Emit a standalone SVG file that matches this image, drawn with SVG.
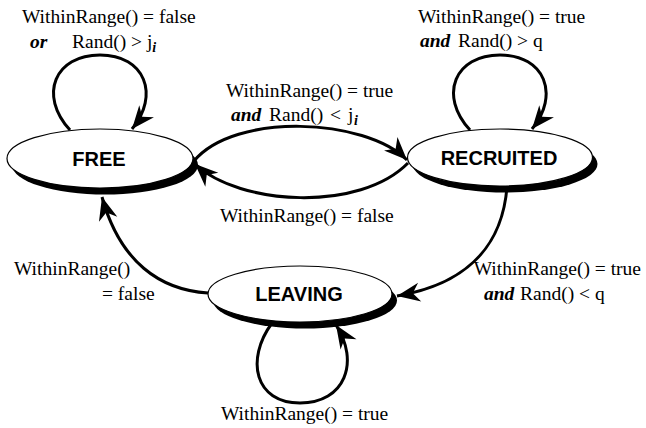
<svg xmlns="http://www.w3.org/2000/svg" width="646" height="428" viewBox="0 0 646 428">
<defs>
<style>
.lbl{font-family:"Liberation Serif","Times New Roman",serif;font-size:19.5px;fill:#000}
.kw{font-weight:bold;font-style:italic}
.sub{font-weight:bold;font-style:italic;font-size:14px}
.nt{font-family:"Liberation Sans",Arial,sans-serif;font-size:20px;font-weight:bold;fill:#000;text-anchor:middle}
.shadow{fill:#000;stroke:none}
.body{fill:#fff;stroke:#000;stroke-width:1.2}
.edge{fill:none;stroke:#000;stroke-width:3;marker-end:url(#ah)}
</style>
<marker id="ah" markerUnits="userSpaceOnUse" markerWidth="26" markerHeight="22" viewBox="-24 -11 26 22" refX="0" refY="0" orient="auto">
<path d="M0,0 L-23,-9.5 L-16,0 L-23,9.5 Z" fill="#000"/>
</marker>
</defs>
<g id="node-free">
<ellipse class="shadow" cx="105" cy="165" rx="93" ry="29.5"/>
<ellipse class="body" cx="100" cy="158.5" rx="93" ry="29.5"/>
<text class="nt" x="99" y="166">FREE</text>
</g>
<g id="node-recruited">
<ellipse class="shadow" cx="505" cy="164" rx="92.5" ry="28.5"/>
<ellipse class="body" cx="500" cy="157.5" rx="92.5" ry="28.5"/>
<text class="nt" x="499" y="165">RECRUITED</text>
</g>
<g id="node-leaving">
<ellipse class="shadow" cx="305" cy="300.5" rx="92" ry="28"/>
<ellipse class="body" cx="300" cy="294" rx="92" ry="28"/>
<text class="nt" x="299" y="301">LEAVING</text>
</g>
<g id="connectors">
<path class="edge" d="M70,130 C38,95 55,55 100,55 C145,55 160,95 132,129"/>
<path class="edge" d="M470,130 C438,95 455,55 500,55 C545,55 560,95 532,129"/>
<path class="edge" d="M194,161 C235,112 365,118 407,160"/>
<path class="edge" d="M408,163 C360,212 240,206 195,164"/>
<path class="edge" d="M507,187 C502,250 462,285 397,296"/>
<path class="edge" d="M208,293 C160,290 120,262 102,197"/>
<path class="edge" d="M272,323 C245,360 255,403 300,403 C345,403 360,362 336,325"/>
</g>
<g id="labels">
<text class="lbl" x="22" y="23">WithinRange() = false</text>
<text class="lbl" y="48"><tspan class="kw" x="30">or</tspan><tspan x="72">Rand() &gt; j</tspan><tspan class="sub" dy="4">i</tspan></text>
<text class="lbl" x="226" y="97">WithinRange() = true</text>
<text class="lbl" y="121"><tspan class="kw" x="231">and</tspan><tspan x="269">Rand()</tspan><tspan x="330">&lt;</tspan><tspan x="348">j</tspan><tspan class="sub" x="354" dy="4">i</tspan></text>
<text class="lbl" x="220" y="222">WithinRange() = false</text>
<text class="lbl" x="418" y="23">WithinRange() = true</text>
<text class="lbl" y="47"><tspan class="kw" x="420">and</tspan><tspan x="458">Rand() &gt; q</tspan></text>
<text class="lbl" x="14" y="275">WithinRange()</text>
<text class="lbl" x="102" y="300">= false</text>
<text class="lbl" x="641" y="275" text-anchor="end">WithinRange() = true</text>
<text class="lbl" y="300"><tspan class="kw" x="484">and</tspan><tspan x="520">Rand() &lt; q</tspan></text>
<text class="lbl" x="221" y="420">WithinRange() = true</text>
</g>
</svg>
